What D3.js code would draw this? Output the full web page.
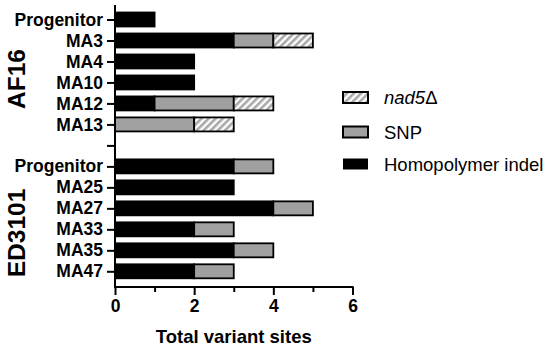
<!DOCTYPE html>
<html><head><meta charset="utf-8">
<script src="https://cdn.jsdelivr.net/npm/d3@7"></script>
<style>body{margin:0;background:#fff}svg{display:block}text{font-family:"Liberation Sans",Arial,sans-serif}</style>
</head><body><svg id="c" width="550" height="349"></svg>
<script>
const categories = ["AF16|Progenitor","AF16|MA3","AF16|MA4","AF16|MA10","AF16|MA12","AF16|MA13","gap","ED3101|Progenitor","ED3101|MA25","ED3101|MA27","ED3101|MA33","ED3101|MA35","ED3101|MA47"];
const indel = [1,3,2,2,1,0,0,3,3,4,2,3,2];
const snp   = [0,1,0,0,2,2,0,1,0,1,1,1,1];
const nad5  = [0,1,0,0,1,1,0,0,0,0,0,0,0];
const seriesNames = ["Homopolymer indel","SNP","nad5Δ"];
const xTicks = [0,1,2,3,4,5,6];
const groups = [{name:"AF16", first:"AF16|Progenitor", last:"AF16|MA13"},{name:"ED3101", first:"ED3101|Progenitor", last:"ED3101|MA47"}];

const svg = d3.select("#c");
const defs = svg.append("defs");
const pat = defs.append("pattern").attr("id","hatch").attr("patternUnits","userSpaceOnUse")
  .attr("width",5).attr("height",5).attr("patternTransform","rotate(45)");
pat.append("rect").attr("width",5).attr("height",5).attr("fill","#fff");
pat.append("rect").attr("width",2.6).attr("height",5).attr("fill","#a8a8a8");

const x = d3.scaleLinear().domain([0,6]).range([115,352.5]);
const y = d3.scalePoint().domain(categories).range([19.5,271.3]);
const bh = 14;
const fills = ["#000","#a0a0a0","url(#hatch)"];

const rows = categories.map((c,i)=>({c, vals:[indel[i],snp[i],nad5[i]]})).filter(r=>r.c!=="gap");
const g = svg.append("g");
rows.forEach(r=>{
  let acc=0;
  r.vals.forEach((v,k)=>{
    if(v>0){
      g.append("rect").attr("x",x(acc)).attr("y",y(r.c)-bh/2).attr("width",x(acc+v)-x(acc)).attr("height",bh)
        .attr("fill",fills[k]).attr("stroke","#000").attr("stroke-width",1.8);
    }
    acc+=v;
  });
});

// y axis
const yAxis = d3.axisLeft(y).tickSize(8).tickPadding(4).tickFormat(d=>d==="gap"?"":d.split("|")[1]);
const ya = svg.append("g").attr("transform","translate(115,0)").call(yAxis);
ya.select(".domain").remove();
ya.append("line").attr("x1",0).attr("x2",0).attr("y1",5).attr("y2",288).attr("stroke","#000").attr("stroke-width",2);
ya.selectAll(".tick line").attr("stroke-width",2);
ya.selectAll(".tick text").attr("font-size",17.5).attr("font-weight","bold").attr("fill","#000")
  .attr("font-family","'Liberation Sans',Arial,sans-serif");

// x axis
const xAxis = d3.axisBottom(x).tickValues(xTicks).tickSize(8).tickPadding(5).tickFormat(d=>d%2===0?d:"");
const xa = svg.append("g").attr("transform","translate(0,287)").call(xAxis);
xa.select(".domain").remove();
xa.append("line").attr("x1",114).attr("x2",353.5).attr("y1",0).attr("y2",0).attr("stroke","#000").attr("stroke-width",2);
xa.selectAll(".tick line").attr("stroke-width",2).attr("y2",d=>d%2===0?8:5);
xa.selectAll(".tick text").attr("font-size",17.5).attr("font-weight","bold").attr("fill","#000")
  .attr("font-family","'Liberation Sans',Arial,sans-serif");

svg.append("text").attr("x",(x(0)+x(6))/2).attr("y",343).attr("text-anchor","middle")
  .attr("font-size",18.5).attr("font-weight","bold").text("Total variant sites");

groups.forEach((gr,i)=>{
  const cy = i===0 ? 79 : 233;
  svg.append("text").attr("transform",`translate(25,${cy}) rotate(-90)`).attr("text-anchor","middle")
    .attr("font-size",24.5).attr("font-weight","bold").text(gr.name);
});

// legend
const legOrder = [2,1,0];
const leg = svg.append("g");
legOrder.forEach((k,i)=>{
  const cy = [97.5,132,164][i];
  leg.append("rect").attr("x",343).attr("y",cy-5.5).attr("width",25).attr("height",11)
    .attr("fill",fills[k]).attr("stroke","#000").attr("stroke-width",k===0?0:2);
  const t = leg.append("text").attr("x",384).attr("y",cy+6.5).attr("font-size",18.5).attr("fill","#000");
  if(k===2){ t.append("tspan").attr("font-style","italic").text("nad5"); t.append("tspan").text("Δ"); }
  else t.text(seriesNames[k]);
});
</script></body></html>
